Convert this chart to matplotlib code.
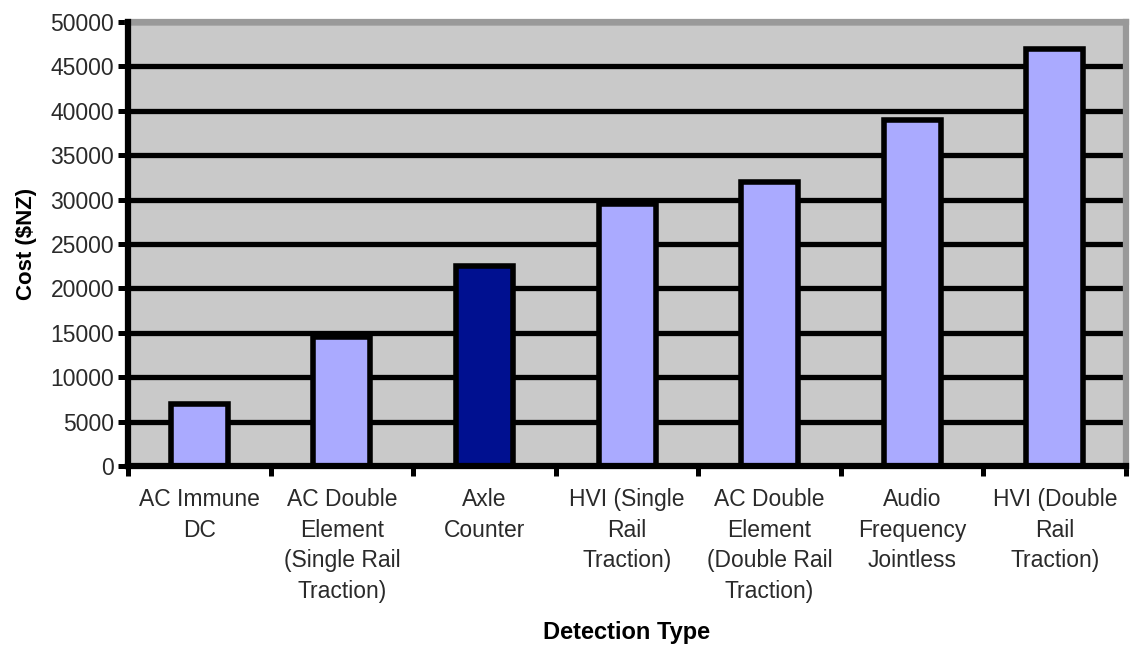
import matplotlib as mpl
mpl.rc('font', family='Liberation Sans')
import matplotlib.pyplot as plt
import numpy as np

categories = ['AC Immune\nDC',
              'AC Double\nElement\n(Single Rail\nTraction)',
              'Axle\nCounter',
              'HVI (Single\nRail\nTraction)',
              'AC Double\nElement\n(Double Rail\nTraction)',
              'Audio\nFrequency\nJointless',
              'HVI (Double\nRail\nTraction)']
cost_nzd = [7000, 14500, 22500, 29500, 32000, 39000, 47000]
highlight = 'Axle\nCounter'

light_blue = '#aaaaff'
dark_blue = '#001090'
bar_colours = [dark_blue if c == highlight else light_blue for c in categories]

fig = plt.figure(figsize=(11.3, 6.45), dpi=100)
ax = fig.add_axes([0.1133, 0.2775, 0.8832, 0.6885])

ax.set_facecolor('#c9c9c9')
x = np.arange(len(categories))
ax.bar(x, cost_nzd, width=0.4, color=bar_colours, edgecolor='black',
       linewidth=4, zorder=3)

ax.set_xlim(-0.5, len(categories) - 0.5)
ax.set_ylim(0, 50000)
ax.set_yticks(np.arange(0, 50001, 5000))
ax.yaxis.grid(True, color='black', linewidth=3.8, zorder=1)
ax.set_axisbelow(True)

# category labels sit between the boundary ticks
ax.set_xticks(x)
ax.set_xticklabels(categories, fontsize=16.5, color='#2a2a2a',
                   linespacing=1.42)
ax.tick_params(axis='x', which='major', length=0, pad=16)
ax.set_xticks(np.arange(-0.5, len(categories)), minor=True)
ax.tick_params(axis='x', which='minor', length=7, width=3.6,
               direction='out', color='black')
ax.tick_params(axis='y', length=7, width=3.6, direction='out',
               labelsize=16.5, labelcolor='#2a2a2a', pad=3)

for side in ['left', 'bottom']:
    ax.spines[side].set_linewidth(4.5)
    ax.spines[side].set_color('black')
    ax.spines[side].set_zorder(4)
for side in ['top', 'right']:
    ax.spines[side].set_linewidth(4.5)
    ax.spines[side].set_color('#999999')

ax.set_ylabel('Cost ($NZ)', fontsize=16, fontweight='bold', labelpad=10)
ax.set_xlabel('Detection Type', fontsize=17, fontweight='bold',
              labelpad=13)

fig.savefig('out.png', dpi=100, facecolor='white')
plt.close(fig)
